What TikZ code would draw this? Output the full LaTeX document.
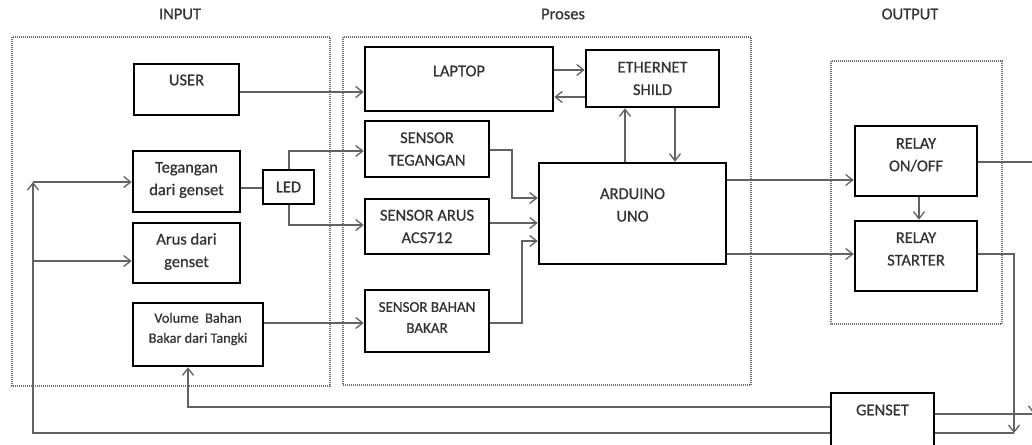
\documentclass[tikz,border=0pt]{standalone}
\usepackage{fontspec}
\setmainfont{Carlito}[FakeBold=0.7]
\usetikzlibrary{arrows.meta}
\definecolor{txtc}{HTML}{333333}
\definecolor{linec}{HTML}{626262}
\definecolor{grpc}{HTML}{6E6E6E}
\begin{document}
\begin{tikzpicture}[x=1pt,y=-1pt,
  box/.style={draw=black, line width=2.6pt, rectangle, inner sep=0pt},
  lbl/.style={align=center, text=txtc, inner sep=0pt, font=\fontsize{16.5}{22.5}\selectfont},
  slbl/.style={lbl, font=\fontsize{15}{21}\selectfont},
  vlbl/.style={lbl, font=\fontsize{14.3}{20}\selectfont},
  group/.style={draw=grpc, dash pattern=on 1pt off 1pt, line width=1.2pt},
  title/.style={text=txtc, font=\fontsize{16.5}{20}\selectfont},
  conn/.style={draw=linec, line width=1.4pt, -{Straight Barb[length=7pt,width=11pt,line width=1.3pt]}},
  plain/.style={draw=linec, line width=1.4pt}
]
\useasboundingbox (0,0) rectangle (1032,444);
\clip (0,0) rectangle (1032,444);

% titles
\node[title] (tin) at (180,14) {INPUT};
\node[title] (tpr) at (563,14) {Proses};
\node[title] (tout) at (910,14) {OUTPUT};

% groups
\draw[group] (12,37) rectangle (330,386);
\draw[group] (343,37) rectangle (751,385);
\draw[group] (831,61) rectangle (1002,324);

% input boxes
\node[box, minimum width=105, minimum height=51, label={[lbl,name=userl,yshift=9.5]center:USER}] (user) at (186.5,89.5) {};
\node[box, minimum width=107, minimum height=61, label={[lbl,name=tegl,yshift=1.5]center:Tegangan\\dari genset}] (teg) at (186.5,181.5) {};
\node[box, minimum width=51, minimum height=34, label={[lbl,name=ledl]center:LED}] (led) at (288.5,187) {};
\node[box, minimum width=107, minimum height=60, label={[lbl,name=arusl,yshift=1.5]center:Arus dari\\genset}] (arus) at (186.5,253) {};
\node[box, minimum width=130, minimum height=63, label={[vlbl,name=voll,yshift=5.5]center:Volume\ \ Bahan\\Bakar dari Tangki}] (vol) at (198,334.5) {};

% process boxes
\node[box, minimum width=188, minimum height=64, label={[lbl,name=lapl,yshift=8]center:LAPTOP}] (lap) at (459,79) {};
\node[box, minimum width=133, minimum height=57, label={[lbl,name=ethl]center:ETHERNET\\SHILD}] (eth) at (652.5,78.5) {};
\node[box, minimum width=124, minimum height=56, label={[lbl,name=stegl]center:SENSOR\\TEGANGAN}] (steg) at (427,149) {};
\node[box, minimum width=124, minimum height=55, label={[lbl,name=sarusl]center:SENSOR ARUS\\ACS712}] (sarus) at (427,226.5) {};
\node[box, minimum width=124, minimum height=62, label={[slbl,name=sbbl,yshift=3.5]center:SENSOR BAHAN\\BAKAR}] (sbb) at (427,321) {};
\node[box, minimum width=187, minimum height=101, label={[lbl,name=ardl,yshift=8.5]center:ARDUINO\\UNO}] (ard) at (632.5,213.5) {};

% output boxes
\node[box, minimum width=122, minimum height=70, label={[lbl,name=ronl,yshift=6]center:RELAY\\ON/OFF}] (ron) at (916,161) {};
\node[box, minimum width=122, minimum height=70, label={[lbl,name=rstl,yshift=7]center:RELAY\\STARTER}] (rst) at (916,256) {};
\node[box, minimum width=103, minimum height=56, label={[lbl,name=genl,yshift=11]center:GENSET}] (gen) at (882.5,421) {};

% corner coordinates
\coordinate (rright) at (1034,414);
\coordinate (sright) at (1014,433);
\coordinate (vbot) at (188,407);
\coordinate (lcorner) at (33,182);

% connectors
\draw[conn] (user.east |- 0,92) -- (lap.west |- 0,92);
\draw[conn] (lap.east |- 0,70) -- (eth.west |- 0,70);
\draw[conn] (eth.west |- 0,97) -- (lap.east |- 0,97);
\draw[conn] (ard.north -| 625,0) -- (eth.south -| 625,0);
\draw[conn] (eth.south -| 675,0) -- (ard.north -| 675,0);

\draw[plain] (teg.east |- 0,188) -- (led.west |- 0,188);
\draw[conn] (led.north -| 289,0) |- (steg.west |- 0,151);
\draw[conn] (led.south -| 289,0) |- (sarus.west |- 0,225);
\draw[conn] (vol.east |- 0,323) -- (sbb.west |- 0,323);

\draw[conn] (steg.east |- 0,150) -| (512,198) -- (ard.west |- 0,198);
\draw[conn] (sarus.east |- 0,223) -- (ard.west |- 0,223);
\draw[conn] (sbb.east |- 0,323) -| (522,241) -- (ard.west |- 0,241);

\draw[conn] (ard.east |- 0,180) -- (ron.west |- 0,180);
\draw[conn] (ard.east |- 0,254) -- (rst.west |- 0,254);
\draw[conn] (ron.south -| 919,0) -- (rst.north -| 919,0);

\draw[conn] (ron.east |- 0,162) -| (rright);
\draw[plain] (gen.east |- rright) -- (rright);
\draw[conn] (rst.east |- 0,254) -| (sright);
\draw[plain] (gen.east |- sright) -- (sright);

\draw[conn] (gen.west |- vbot) -- (vbot) -- (vol.south -| vbot);
\draw[conn] (gen.west |- 0,433) -| (lcorner);
\draw[conn] (lcorner) -- (teg.west |- lcorner);
\draw[conn] (33,261) -- (arus.west |- 0,261);
\end{tikzpicture}
\end{document}
